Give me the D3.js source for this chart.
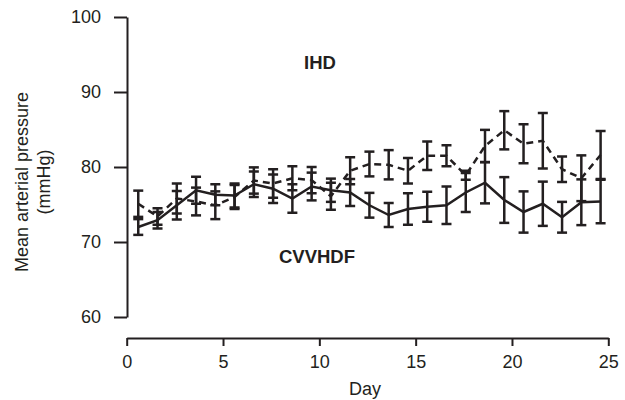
<!DOCTYPE html>
<html>
<head>
<meta charset="utf-8">
<script src="https://cdn.jsdelivr.net/npm/d3@7"></script>
<style>
  html, body { margin: 0; padding: 0; background: #fff; }
  svg { display: block; }
  text { font-family: "Liberation Sans", Arial, sans-serif; fill: #231f20; }
</style>
</head>
<body>
<svg id="chart" width="625" height="400"></svg>
<script>
const days = [0.6, 1.6, 2.6, 3.6, 4.6, 5.6, 6.6, 7.6, 8.6, 9.6, 10.6, 11.6, 12.6,
              13.6, 14.6, 15.6, 16.6, 17.6, 18.6, 19.6, 20.6, 21.6, 22.6, 23.6, 24.6];
const cvvhdfMean = [72.0, 72.9, 74.9, 76.9, 76.3, 76.2, 77.7, 77.1, 75.8, 77.4, 76.9, 76.6, 74.9,
                    73.6, 74.4, 74.7, 74.9, 76.6, 77.9, 75.6, 74.0, 75.1, 73.3, 75.3, 75.4];
const cvvhdfErr  = [1.05, 1.1, 1.9, 1.8, 1.4, 1.6, 1.7, 1.9, 1.9, 1.85, 1.55, 1.8, 1.65,
                    1.6, 2.1, 2.0, 2.5, 2.6, 2.75, 3.05, 2.75, 2.95, 2.05, 3.05, 2.9];
const ihdMean = [75.1, 73.4, 75.8, 75.4, 74.9, 76.0, 78.2, 77.8, 78.5, 78.25, 76.1, 79.5, 80.4,
                 80.3, 79.5, 81.5, 81.5, 78.9, 82.8, 84.9, 83.1, 83.5, 79.7, 78.5, 81.6];
const ihdErr  = [1.75, 1.1, 2.0, 1.85, 1.85, 1.6, 1.75, 1.9, 1.6, 1.75, 1.8, 1.8, 1.65,
                 1.95, 1.7, 1.9, 1.4, 0.6, 2.15, 2.55, 2.6, 3.7, 1.7, 3.05, 3.2];
const yTicks = [60, 70, 80, 90, 100];
const xTicks = [0, 5, 10, 15, 20, 25];
const yTitle = ["Mean arterial pressure", "(mmHg)"];
const xTitle = "Day";

const ink = "#231f20";
const svg = d3.select("#chart");
const x = d3.scaleLinear().domain([0, 25]).range([126.7, 608.3]);
const y = d3.scaleLinear().domain([60, 100]).range([317, 17]);

// Y axis
const yAxis = svg.append("g").attr("transform", "translate(127,0)")
  .call(d3.axisLeft(y).tickValues(yTicks).tickSize(13).tickPadding(13).tickSizeOuter(0));
yAxis.select(".domain").attr("stroke", ink).attr("stroke-width", 2);
yAxis.selectAll(".tick line").attr("stroke", ink).attr("stroke-width", 2);
yAxis.selectAll(".tick text").attr("font-size", 18).attr("font-family", "Liberation Sans, Arial, sans-serif").attr("fill", ink);

// X axis (detached)
const xAxis = svg.append("g").attr("transform", "translate(0,338)")
  .call(d3.axisBottom(x).tickValues(xTicks).tickSize(8).tickPadding(9).tickSizeOuter(0));
xAxis.select(".domain").attr("stroke", ink).attr("stroke-width", 2);
xAxis.selectAll(".tick line").attr("stroke", ink).attr("stroke-width", 2);
xAxis.selectAll(".tick text").attr("font-size", 18).attr("font-family", "Liberation Sans, Arial, sans-serif").attr("fill", ink);

// Titles
svg.append("text").attr("x", 365).attr("y", 395).attr("text-anchor", "middle")
  .attr("font-size", 18).text(xTitle);
yTitle.forEach((t, i) => {
  svg.append("text")
    .attr("transform", `translate(${28 + i * 22},182) rotate(-90)`)
    .attr("text-anchor", "middle").attr("font-size", 18).text(t);
});

// Series
function drawSeries(means, errs, dashed) {
  const pts = days.map((d, i) => ({ d, m: means[i], e: errs[i] }));
  const g = svg.append("g");
  g.append("path").datum(pts)
    .attr("fill", "none").attr("stroke", ink).attr("stroke-width", 2.5)
    .attr("stroke-dasharray", dashed ? "7,5" : null)
    .attr("d", d3.line().x(p => x(p.d)).y(p => y(p.m)));
  const eb = g.selectAll(".eb").data(pts).enter().append("g");
  eb.append("line")
    .attr("x1", p => x(p.d)).attr("x2", p => x(p.d))
    .attr("y1", p => y(p.m - p.e)).attr("y2", p => y(p.m + p.e))
    .attr("stroke", ink).attr("stroke-width", 2.5);
  [1, -1].forEach(s => {
    eb.append("line")
      .attr("x1", p => x(p.d) - 5).attr("x2", p => x(p.d) + 5)
      .attr("y1", p => y(p.m + s * p.e)).attr("y2", p => y(p.m + s * p.e))
      .attr("stroke", ink).attr("stroke-width", 2.5);
  });
}
drawSeries(ihdMean, ihdErr, true);
drawSeries(cvvhdfMean, cvvhdfErr, false);

// Series labels
svg.append("text").attr("x", 320).attr("y", 69).attr("text-anchor", "middle")
  .attr("font-size", 18.5).attr("font-weight", "bold").text("IHD");
svg.append("text").attr("x", 317).attr("y", 263).attr("text-anchor", "middle")
  .attr("font-size", 18.5).attr("font-weight", "bold").text("CVVHDF");
</script>
</body>
</html>
